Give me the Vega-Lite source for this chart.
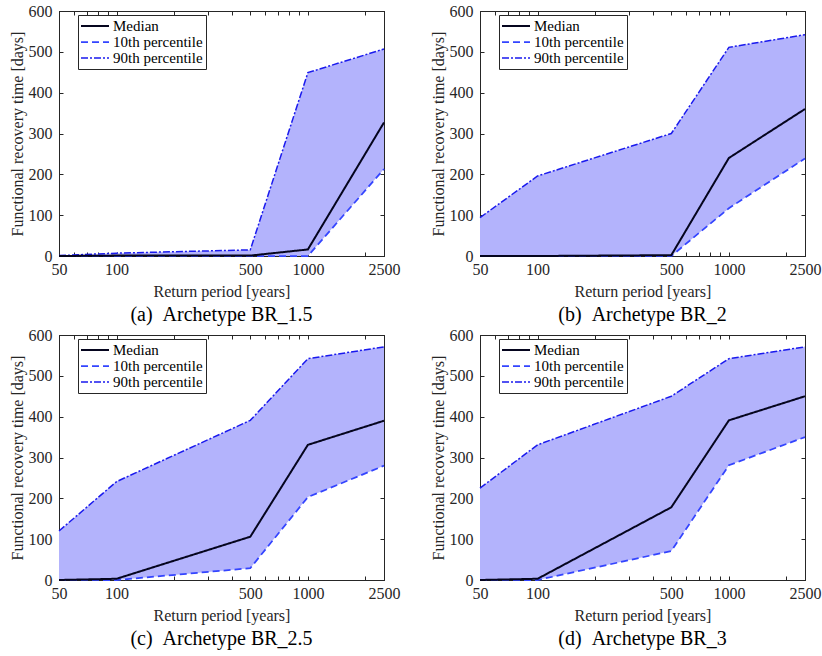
{
  "$schema": "https://vega.github.io/schema/vega-lite/v6.json",
  "background": "white",
  "padding": {"left": 8, "top": 2, "right": 5, "bottom": 5},
  "config": {
    "font": "Liberation Serif",
    "view": {"stroke": "#262626", "strokeWidth": 1},
    "axis": {"grid": false, "domainColor": "#262626", "tickColor": "#262626", "labelColor": "#262626", "titleColor": "#262626", "labelFont": "Liberation Serif", "titleFont": "Liberation Serif", "labelFontSize": 16, "titleFontSize": 16, "titleFontWeight": "normal", "tickSize": -4},
    "axisX": {"labelPadding": 9, "titlePadding": 6},
    "axisY": {"labelPadding": 11, "titlePadding": 3},
    "legend": {"labelFont": "Liberation Serif", "labelFontSize": 15, "labelColor": "black", "symbolType": "M-2,0L2,0", "symbolSize": 196, "symbolOffset": 6, "symbolStrokeWidth": 2, "strokeColor": "#262626", "fillColor": "white", "padding": 3, "rowPadding": 0, "labelOffset": 10, "labelLimit": 200},
    "title": {"font": "Liberation Serif", "fontSize": 20, "fontWeight": "normal", "orient": "bottom", "color": "black", "offset": 6}
  },
  "data": {"values": [
    {"panel": "a", "rp": 50, "p10": 0, "med": 0, "p90": 1},
    {"panel": "a", "rp": 100, "p10": 0, "med": 1, "p90": 7},
    {"panel": "a", "rp": 500, "p10": 0, "med": 1, "p90": 15},
    {"panel": "a", "rp": 1000, "p10": 0, "med": 16, "p90": 449},
    {"panel": "a", "rp": 2500, "p10": 213, "med": 327, "p90": 507},
    {"panel": "b", "rp": 50, "p10": 0, "med": 0, "p90": 94},
    {"panel": "b", "rp": 100, "p10": 0, "med": 0, "p90": 196},
    {"panel": "b", "rp": 500, "p10": 0, "med": 2, "p90": 300},
    {"panel": "b", "rp": 1000, "p10": 117, "med": 240, "p90": 511},
    {"panel": "b", "rp": 2500, "p10": 239, "med": 360, "p90": 542},
    {"panel": "c", "rp": 50, "p10": 0, "med": 0, "p90": 120},
    {"panel": "c", "rp": 100, "p10": 0, "med": 3, "p90": 241},
    {"panel": "c", "rp": 500, "p10": 29, "med": 106, "p90": 391},
    {"panel": "c", "rp": 1000, "p10": 203, "med": 331, "p90": 542},
    {"panel": "c", "rp": 2500, "p10": 280, "med": 390, "p90": 571},
    {"panel": "d", "rp": 50, "p10": 0, "med": 0, "p90": 225},
    {"panel": "d", "rp": 100, "p10": 0, "med": 3, "p90": 331},
    {"panel": "d", "rp": 500, "p10": 71, "med": 178, "p90": 450},
    {"panel": "d", "rp": 1000, "p10": 281, "med": 391, "p90": 542},
    {"panel": "d", "rp": 2500, "p10": 350, "med": 450, "p90": 571}
  ]},
  "columns": 2,
  "spacing": {"row": 0, "column": 28},
  "resolve": {"scale": {"color": "independent", "strokeDash": "independent", "strokeWidth": "independent"}, "legend": {"color": "independent", "strokeDash": "independent", "strokeWidth": "independent"}},
  "concat": [
    {
      "title": "(a)\u00a0\u00a0Archetype BR_1.5",
      "width": 325, "height": 245,
      "transform": [{"filter": "datum.panel == 'a'"}],
      "resolve": {"axis": {"x": "independent", "y": "independent"}},
      "layer": [
        {"mark": {"type": "area", "color": "#b3b3fc", "opacity": 1},
         "encoding": {
           "x": {"field": "rp", "type": "quantitative", "scale": {"type": "log", "domain": [50, 2500], "nice": false}, "axis": {"orient": "bottom", "title": "Return period [years]", "values": [50, 60, 70, 80, 90, 100, 200, 300, 400, 500, 600, 700, 800, 900, 1000, 2000, 2500], "labelExpr": "indexof([50,100,500,1000,2500], datum.value) >= 0 ? datum.label : ''", "format": "d", "labelFlush": false}},
           "y": {"field": "p10", "type": "quantitative", "scale": {"domain": [0, 600], "nice": false}, "axis": {"orient": "left", "title": "Functional recovery time [days]", "values": [0, 100, 200, 300, 400, 500, 600]}},
           "y2": {"field": "p90"}
         }},
        {"transform": [{"fold": ["p90", "p10", "med"], "as": ["series", "val"]}],
         "mark": {"type": "line"},
         "encoding": {
           "x": {"field": "rp", "type": "quantitative", "scale": {"type": "log", "domain": [50, 2500], "nice": false}, "axis": {"orient": "top", "title": null, "labels": false, "values": [50, 60, 70, 80, 90, 100, 200, 300, 400, 500, 600, 700, 800, 900, 1000, 2000, 2500]}},
           "y": {"field": "val", "type": "quantitative", "scale": {"domain": [0, 600], "nice": false}, "axis": {"orient": "right", "title": null, "labels": false, "values": [0, 100, 200, 300, 400, 500, 600]}},
           "color": {"field": "series", "type": "nominal", "scale": {"domain": ["med", "p10", "p90"], "range": ["#05051e", "#3344ff", "#1a1aee"]}, "legend": {"title": null, "orient": "none", "legendX": 19, "legendY": 4, "labelExpr": "datum.label == 'med' ? 'Median' : datum.label == 'p10' ? '10th percentile' : '90th percentile'"}},
           "strokeDash": {"field": "series", "type": "nominal", "scale": {"domain": ["med", "p10", "p90"], "range": [[1, 0], [7, 4], [7, 2, 2, 2]]}, "legend": {"title": null, "orient": "none", "legendX": 19, "legendY": 4, "labelExpr": "datum.label == 'med' ? 'Median' : datum.label == 'p10' ? '10th percentile' : '90th percentile'"}},
           "strokeWidth": {"field": "series", "type": "nominal", "scale": {"domain": ["med", "p10", "p90"], "range": [2, 1.5, 1.5]}, "legend": {"title": null, "orient": "none", "legendX": 19, "legendY": 4, "labelExpr": "datum.label == 'med' ? 'Median' : datum.label == 'p10' ? '10th percentile' : '90th percentile'"}}
         }}
      ]
    },
    {
      "title": "(b)\u00a0\u00a0Archetype BR_2",
      "width": 325, "height": 245,
      "transform": [{"filter": "datum.panel == 'b'"}],
      "resolve": {"axis": {"x": "independent", "y": "independent"}},
      "layer": [
        {"mark": {"type": "area", "color": "#b3b3fc", "opacity": 1},
         "encoding": {
           "x": {"field": "rp", "type": "quantitative", "scale": {"type": "log", "domain": [50, 2500], "nice": false}, "axis": {"orient": "bottom", "title": "Return period [years]", "values": [50, 60, 70, 80, 90, 100, 200, 300, 400, 500, 600, 700, 800, 900, 1000, 2000, 2500], "labelExpr": "indexof([50,100,500,1000,2500], datum.value) >= 0 ? datum.label : ''", "format": "d", "labelFlush": false}},
           "y": {"field": "p10", "type": "quantitative", "scale": {"domain": [0, 600], "nice": false}, "axis": {"orient": "left", "title": "Functional recovery time [days]", "values": [0, 100, 200, 300, 400, 500, 600]}},
           "y2": {"field": "p90"}
         }},
        {"transform": [{"fold": ["p90", "p10", "med"], "as": ["series", "val"]}],
         "mark": {"type": "line"},
         "encoding": {
           "x": {"field": "rp", "type": "quantitative", "scale": {"type": "log", "domain": [50, 2500], "nice": false}, "axis": {"orient": "top", "title": null, "labels": false, "values": [50, 60, 70, 80, 90, 100, 200, 300, 400, 500, 600, 700, 800, 900, 1000, 2000, 2500]}},
           "y": {"field": "val", "type": "quantitative", "scale": {"domain": [0, 600], "nice": false}, "axis": {"orient": "right", "title": null, "labels": false, "values": [0, 100, 200, 300, 400, 500, 600]}},
           "color": {"field": "series", "type": "nominal", "scale": {"domain": ["med", "p10", "p90"], "range": ["#05051e", "#3344ff", "#1a1aee"]}, "legend": {"title": null, "orient": "none", "legendX": 19, "legendY": 4, "labelExpr": "datum.label == 'med' ? 'Median' : datum.label == 'p10' ? '10th percentile' : '90th percentile'"}},
           "strokeDash": {"field": "series", "type": "nominal", "scale": {"domain": ["med", "p10", "p90"], "range": [[1, 0], [7, 4], [7, 2, 2, 2]]}, "legend": {"title": null, "orient": "none", "legendX": 19, "legendY": 4, "labelExpr": "datum.label == 'med' ? 'Median' : datum.label == 'p10' ? '10th percentile' : '90th percentile'"}},
           "strokeWidth": {"field": "series", "type": "nominal", "scale": {"domain": ["med", "p10", "p90"], "range": [2, 1.5, 1.5]}, "legend": {"title": null, "orient": "none", "legendX": 19, "legendY": 4, "labelExpr": "datum.label == 'med' ? 'Median' : datum.label == 'p10' ? '10th percentile' : '90th percentile'"}}
         }}
      ]
    },
    {
      "title": "(c)\u00a0\u00a0Archetype BR_2.5",
      "width": 325, "height": 245,
      "transform": [{"filter": "datum.panel == 'c'"}],
      "resolve": {"axis": {"x": "independent", "y": "independent"}},
      "layer": [
        {"mark": {"type": "area", "color": "#b3b3fc", "opacity": 1},
         "encoding": {
           "x": {"field": "rp", "type": "quantitative", "scale": {"type": "log", "domain": [50, 2500], "nice": false}, "axis": {"orient": "bottom", "title": "Return period [years]", "values": [50, 60, 70, 80, 90, 100, 200, 300, 400, 500, 600, 700, 800, 900, 1000, 2000, 2500], "labelExpr": "indexof([50,100,500,1000,2500], datum.value) >= 0 ? datum.label : ''", "format": "d", "labelFlush": false}},
           "y": {"field": "p10", "type": "quantitative", "scale": {"domain": [0, 600], "nice": false}, "axis": {"orient": "left", "title": "Functional recovery time [days]", "values": [0, 100, 200, 300, 400, 500, 600]}},
           "y2": {"field": "p90"}
         }},
        {"transform": [{"fold": ["p90", "p10", "med"], "as": ["series", "val"]}],
         "mark": {"type": "line"},
         "encoding": {
           "x": {"field": "rp", "type": "quantitative", "scale": {"type": "log", "domain": [50, 2500], "nice": false}, "axis": {"orient": "top", "title": null, "labels": false, "values": [50, 60, 70, 80, 90, 100, 200, 300, 400, 500, 600, 700, 800, 900, 1000, 2000, 2500]}},
           "y": {"field": "val", "type": "quantitative", "scale": {"domain": [0, 600], "nice": false}, "axis": {"orient": "right", "title": null, "labels": false, "values": [0, 100, 200, 300, 400, 500, 600]}},
           "color": {"field": "series", "type": "nominal", "scale": {"domain": ["med", "p10", "p90"], "range": ["#05051e", "#3344ff", "#1a1aee"]}, "legend": {"title": null, "orient": "none", "legendX": 19, "legendY": 4, "labelExpr": "datum.label == 'med' ? 'Median' : datum.label == 'p10' ? '10th percentile' : '90th percentile'"}},
           "strokeDash": {"field": "series", "type": "nominal", "scale": {"domain": ["med", "p10", "p90"], "range": [[1, 0], [7, 4], [7, 2, 2, 2]]}, "legend": {"title": null, "orient": "none", "legendX": 19, "legendY": 4, "labelExpr": "datum.label == 'med' ? 'Median' : datum.label == 'p10' ? '10th percentile' : '90th percentile'"}},
           "strokeWidth": {"field": "series", "type": "nominal", "scale": {"domain": ["med", "p10", "p90"], "range": [2, 1.5, 1.5]}, "legend": {"title": null, "orient": "none", "legendX": 19, "legendY": 4, "labelExpr": "datum.label == 'med' ? 'Median' : datum.label == 'p10' ? '10th percentile' : '90th percentile'"}}
         }}
      ]
    },
    {
      "title": "(d)\u00a0\u00a0Archetype BR_3",
      "width": 325, "height": 245,
      "transform": [{"filter": "datum.panel == 'd'"}],
      "resolve": {"axis": {"x": "independent", "y": "independent"}},
      "layer": [
        {"mark": {"type": "area", "color": "#b3b3fc", "opacity": 1},
         "encoding": {
           "x": {"field": "rp", "type": "quantitative", "scale": {"type": "log", "domain": [50, 2500], "nice": false}, "axis": {"orient": "bottom", "title": "Return period [years]", "values": [50, 60, 70, 80, 90, 100, 200, 300, 400, 500, 600, 700, 800, 900, 1000, 2000, 2500], "labelExpr": "indexof([50,100,500,1000,2500], datum.value) >= 0 ? datum.label : ''", "format": "d", "labelFlush": false}},
           "y": {"field": "p10", "type": "quantitative", "scale": {"domain": [0, 600], "nice": false}, "axis": {"orient": "left", "title": "Functional recovery time [days]", "values": [0, 100, 200, 300, 400, 500, 600]}},
           "y2": {"field": "p90"}
         }},
        {"transform": [{"fold": ["p90", "p10", "med"], "as": ["series", "val"]}],
         "mark": {"type": "line"},
         "encoding": {
           "x": {"field": "rp", "type": "quantitative", "scale": {"type": "log", "domain": [50, 2500], "nice": false}, "axis": {"orient": "top", "title": null, "labels": false, "values": [50, 60, 70, 80, 90, 100, 200, 300, 400, 500, 600, 700, 800, 900, 1000, 2000, 2500]}},
           "y": {"field": "val", "type": "quantitative", "scale": {"domain": [0, 600], "nice": false}, "axis": {"orient": "right", "title": null, "labels": false, "values": [0, 100, 200, 300, 400, 500, 600]}},
           "color": {"field": "series", "type": "nominal", "scale": {"domain": ["med", "p10", "p90"], "range": ["#05051e", "#3344ff", "#1a1aee"]}, "legend": {"title": null, "orient": "none", "legendX": 19, "legendY": 4, "labelExpr": "datum.label == 'med' ? 'Median' : datum.label == 'p10' ? '10th percentile' : '90th percentile'"}},
           "strokeDash": {"field": "series", "type": "nominal", "scale": {"domain": ["med", "p10", "p90"], "range": [[1, 0], [7, 4], [7, 2, 2, 2]]}, "legend": {"title": null, "orient": "none", "legendX": 19, "legendY": 4, "labelExpr": "datum.label == 'med' ? 'Median' : datum.label == 'p10' ? '10th percentile' : '90th percentile'"}},
           "strokeWidth": {"field": "series", "type": "nominal", "scale": {"domain": ["med", "p10", "p90"], "range": [2, 1.5, 1.5]}, "legend": {"title": null, "orient": "none", "legendX": 19, "legendY": 4, "labelExpr": "datum.label == 'med' ? 'Median' : datum.label == 'p10' ? '10th percentile' : '90th percentile'"}}
         }}
      ]
    }
  ]
}
